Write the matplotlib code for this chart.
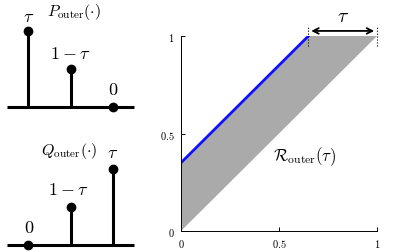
import matplotlib
matplotlib.use("Agg")
import matplotlib.pyplot as plt
import numpy as np

plt.rcParams['mathtext.fontset'] = 'cm'
plt.rcParams['font.family'] = 'serif'
plt.rcParams['font.serif'] = ['DejaVu Serif']

# stem heights (as drawn) for the two distributions
stem_pos = [1, 2, 3]
p_outer = [0.66, 0.33, 0.0]
q_outer = [0.0, 0.33, 0.66]
p_labels = [r'$\tau$', r'$1-\tau$', r'$0$']
q_labels = [r'$0$', r'$1-\tau$', r'$\tau$']

# region R_outer(tau)
tau = 0.35
region_x = [0, 0, 1 - tau, 1]
region_y = [0, tau, 1, 1]
blue_x = [0, 1 - tau]
blue_y = [tau, 1]

ticks = [0, 0.5, 1]
tick_labels = ['0', '0.5', '1']

fig = plt.figure(figsize=(4.05, 2.53), dpi=100)
W, H = 405, 253


def stem_panel(bottom_px, values, labels, label_xy, title, title_xy):
    ax = fig.add_axes([7 / W, bottom_px / H, 127 / W, 92 / H])
    ax.set_xlim(0.5, 3.5)
    ax.set_ylim(0, 0.8)
    ax.axis('off')
    ax.plot([0.5, 3.5], [0, 0], color='black', lw=2.2, clip_on=False,
            solid_capstyle='butt')
    for x, v in zip(stem_pos, values):
        ax.plot([x, x], [0, v], color='black', lw=2.2, clip_on=False,
                solid_capstyle='butt')
        ax.plot(x, v, 'o', color='black', ms=6, clip_on=False)
    for lab, (x, y) in zip(labels, label_xy):
        ax.text(x, y, lab, fontsize=13, ha='center', va='center')
    ax.text(title_xy[0], title_xy[1], title, fontsize=11.5,
            ha='center', va='center')
    return ax


stem_panel(145, p_outer, p_labels,
           [(1.0, 0.79), (1.99, 0.47), (3.0, 0.16)],
           r'$P_{\mathrm{outer}}(\cdot)$', (2.08, 0.835))
stem_panel(7, q_outer, q_labels,
           [(1.02, 0.16), (1.94, 0.49), (3.0, 0.81)],
           r'$Q_{\mathrm{outer}}(\cdot)$', (1.96, 0.83))

ax = fig.add_axes([181 / W, 21 / H, 196 / W, 195 / H])
ax.fill(region_x, region_y, color='#aaaaaa', lw=0)
ax.plot(blue_x, blue_y, color='#1010ff', lw=2)
ax.set_xlim(0, 1)
ax.set_ylim(0, 1)
ax.spines['top'].set_visible(False)
ax.spines['right'].set_visible(False)
ax.spines['left'].set_linewidth(0.7)
ax.spines['bottom'].set_linewidth(0.7)
ax.set_xticks(ticks)
ax.set_yticks(ticks)
ax.set_xticklabels([f'${t}$' for t in tick_labels], fontsize=7.5)
ax.set_yticklabels([f'${t}$' for t in tick_labels], fontsize=7.5)
ax.tick_params(direction='in', length=3, width=0.7, pad=4.5)

# tau bracket above the top edge
for x in [1 - tau, 1]:
    ax.plot([x, x], [0.95, 1.045], color='black', lw=0.8, ls=':',
            clip_on=False)
ax.annotate('', xy=(1, 1.026), xytext=(1 - tau, 1.026),
            arrowprops=dict(arrowstyle='<->', color='black', lw=1.3),
            annotation_clip=False)
ax.text(1 - tau / 2, 1.10, r'$\tau$', fontsize=14, ha='center', va='center')
ax.text(0.63, 0.385, r'$\mathcal{R}_{\mathrm{outer}}(\tau)$', fontsize=12,
        ha='center', va='center')

fig.savefig('out.png', dpi=100)
